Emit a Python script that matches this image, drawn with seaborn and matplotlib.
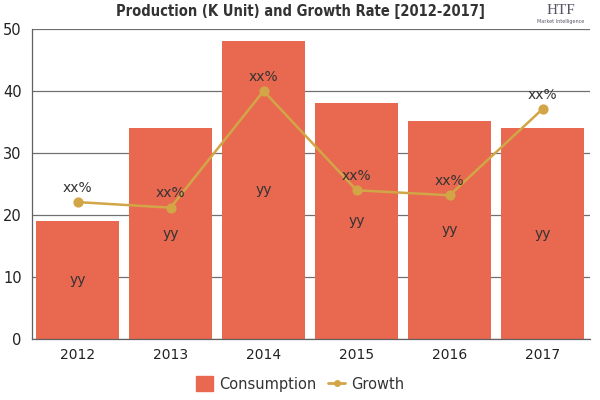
import matplotlib
matplotlib.use("Agg")
import matplotlib.pyplot as plt
import seaborn as sns
from matplotlib.lines import Line2D
from matplotlib.patches import Patch

# Data
years = ["2012", "2013", "2014", "2015", "2016", "2017"]
consumption = [19, 34, 48, 38, 35.2, 34]
growth = [22.1, 21.2, 40, 24, 23.2, 37.1]
bar_labels = ["yy"] * 6
point_labels = ["xx%"] * 6

bar_color = "#E8694F"
line_color = "#D2A547"

sns.set_style("white")
plt.rcParams["font.family"] = ["DejaVu Sans"]

fig = plt.figure(figsize=(6, 4), dpi=100, facecolor="white")
ax = fig.add_axes([0.0525, 0.1518, 0.931, 0.776])

sns.barplot(x=years, y=consumption, color=bar_color, width=0.892,
            saturation=1, linewidth=0, ax=ax, zorder=2)
sns.pointplot(x=years, y=growth, color=line_color, markers="o",
              markersize=6, linewidth=1.8, ax=ax, zorder=3)

for i, (c, g) in enumerate(zip(consumption, growth)):
    ax.text(i, c / 2, bar_labels[i], ha="center", va="center",
            fontsize=10, color="#333333", zorder=4)
    ax.text(i, g + 1.2, point_labels[i], ha="center", va="bottom",
            fontsize=10, color="#333333", zorder=4)

ax.set_ylim(0, 50)
ax.set_xlim(-0.495, 5.51)
ax.set_yticks([0, 10, 20, 30, 40, 50])
ax.yaxis.grid(True, color="#707070", linewidth=0.9, zorder=0)
ax.set_axisbelow(True)
for s in ["top", "right"]:
    ax.spines[s].set_visible(False)
for s in ["left", "bottom"]:
    ax.spines[s].set_color("#606060")
    ax.spines[s].set_linewidth(0.9)
ax.tick_params(axis="y", length=5, color="#606060", labelsize=10.5,
               labelcolor="#222222", pad=2)
ax.tick_params(axis="x", length=0, labelsize=10, labelcolor="#222222", pad=6)
ax.set_xlabel("")
ax.set_ylabel("")

fig.text(0.5, 0.972, "Production (K Unit) and Growth Rate [2012-2017]",
         ha="center", va="center", fontsize=10.5, fontweight="bold",
         color="#333333", fontstretch="condensed")

# logo text
fig.text(0.935, 0.975, "HTF", ha="center", va="center", fontsize=11,
         color="#555566", family="Liberation Serif")
fig.text(0.935, 0.945, "Market Intelligence", ha="center", va="center",
         fontsize=3.5, color="#555566")

handles = [
    Patch(facecolor=bar_color, edgecolor=bar_color, label="Consumption"),
    Line2D([0], [0], color=line_color, marker="o", markersize=4,
           linewidth=2, label="Growth"),
]
fig.legend(handles=handles, loc="center", bbox_to_anchor=(0.5, 0.04),
           ncol=2, frameon=False, fontsize=10.5, handlelength=1.2,
           handleheight=1.2, columnspacing=0.8, handletextpad=0.4,
           labelcolor="#333333")

fig.savefig("out.png", dpi=100, facecolor="white")
